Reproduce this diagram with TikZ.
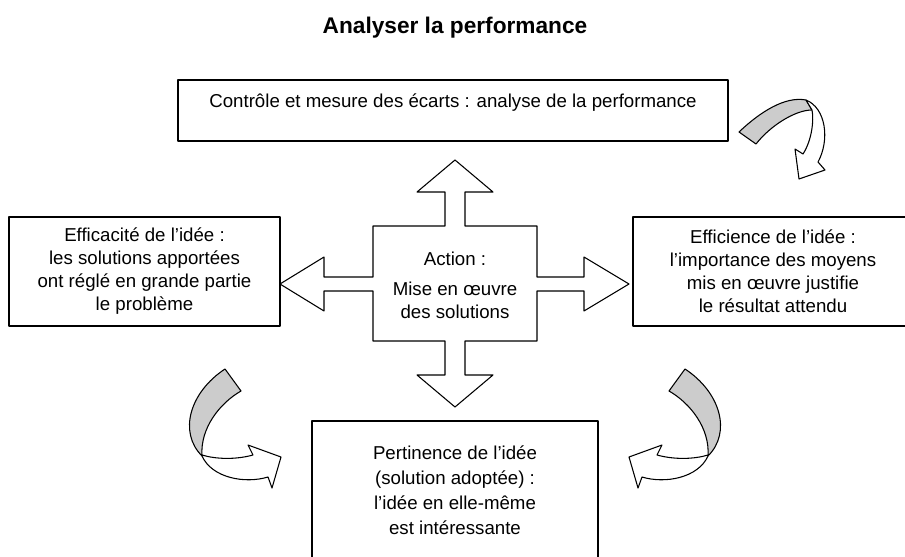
\documentclass[tikz,border=0pt]{standalone}
\usepackage{fontspec}
\setmainfont{Liberation Sans}

% fleche courbe (ruban gris + ruban blanc)
\newcommand{\curlarrow}{%
  \draw[dos] (225,369) .. controls (190,392) and (178,432) .. (202,456)
    .. controls (200,428) and (220,403) .. (241,391) -- cycle;
  \draw[face] (202,456) .. controls (212,478) and (245,484) .. (268,477)
    -- (272,488) -- (281,457) -- (248,445) -- (253,455)
    .. controls (235,460) and (215,459) .. (202,455) -- cycle;}

\begin{document}
\begin{tikzpicture}[x=0.75pt, y=-0.75pt, line join=round,
  boite/.style={draw, line width=0.9pt, inner sep=0pt, align=center,
    font=\fontsize{14}{17.25}\selectfont},
  dos/.style={draw, line width=0.8pt, fill=black!20},
  face/.style={draw, line width=0.8pt, fill=white}]
\useasboundingbox (0,0) rectangle (905,556);

% Titre
\node[font=\fontsize{17}{20}\selectfont\bfseries] (titre) at (455,28) {Analyser la performance};

% Boites
\node[boite, minimum width=412.5pt, minimum height=45.75pt, text depth=15pt] (controle) at (453,110.5)
  {Contrôle et mesure des écarts : analyse de la performance};
\node[boite, minimum width=203.25pt, minimum height=81.75pt] (efficacite) at (144.5,271.5)
  {Efficacité de l’idée :\\les solutions apportées\\ont réglé en grande partie\\le problème};
\node[boite, minimum width=210pt, minimum height=81.75pt] (efficience) at (773,271.5)
  {Efficience de l’idée :\\l’importance des moyens\\mis en œuvre justifie\\le résultat attendu};
\node[boite, minimum width=214.5pt, minimum height=104.25pt, font=\fontsize{14}{18.75}\selectfont] (pertinence) at (455,490.5)
  {Pertinence de l’idée\\(solution adoptée) :\\l’idée en elle-même\\est intéressante};

% Croix
\draw[face] (373,226) -- (445,226) -- (445,192) -- (417,192) -- (455,160) -- (493,192) -- (465,192)
  -- (465,226) -- (537,226) -- (537,277) -- (584,277) -- (584,257) -- (629,284) -- (584,311)
  -- (584,291) -- (537,291) -- (537,341) -- (465,341) -- (465,375) -- (493,375) -- (455,407)
  -- (417,375) -- (445,375) -- (445,341) -- (373,341) -- (373,291) -- (324,291) -- (324,311)
  -- (280,284) -- (324,257) -- (324,277) -- (373,277) -- cycle;
\node[align=center, font=\fontsize{14}{17.25}\selectfont] (action) at (455,285)
  {Action :\\[5pt]Mise en œuvre\\des solutions};

% Fleches courbes
\curlarrow
\begin{scope}[shift={(910,0)}, xscale=-1]
  \curlarrow
\end{scope}
\draw[dos] (739,132) .. controls (760,112) and (785,96) .. (806,100) -- (812,110)
  .. controls (795,110) and (770,126) .. (756,144) -- cycle;
\draw[face] (806,100) .. controls (826,108) and (830,140) .. (818,162) -- (825,170)
  -- (799,179) -- (795,149) -- (803,154) .. controls (812,140) and (814,120) .. (812,110) -- cycle;
\end{tikzpicture}
\end{document}
